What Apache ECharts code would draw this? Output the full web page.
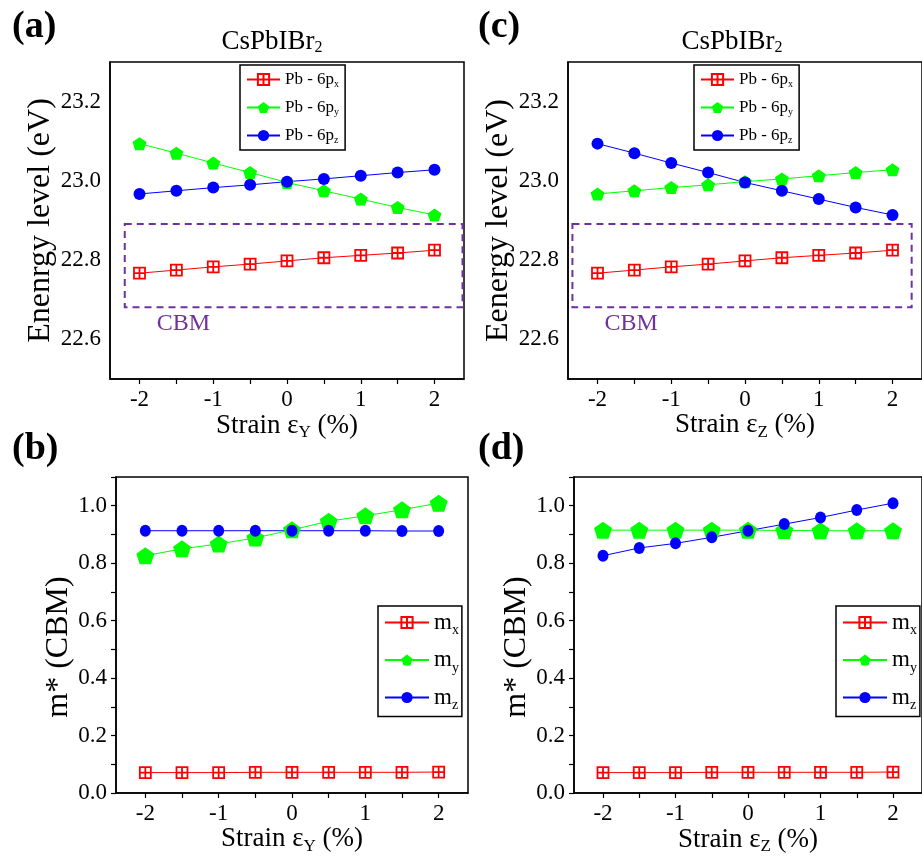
<!DOCTYPE html>
<html>
<head>
<meta charset="utf-8">
<script src="https://cdn.jsdelivr.net/npm/echarts@6/dist/echarts.min.js"></script>
<style>html,body{margin:0;padding:0;background:#fff}#c{width:922px;height:863px}</style>
</head>
<body>
<div id="c"></div>
<script>
// ---- data ----
const strain = [-2, -1.5, -1, -0.5, 0, 0.5, 1, 1.5, 2];
const xTickVals = [-2, -1.5, -1, -0.5, 0, 0.5, 1, 1.5, 2];
const xLabelVals = [-2, -1, 0, 1, 2];
const eLabelVals = [22.6, 22.8, 23.0, 23.2];
const mLabelVals = [0.0, 0.2, 0.4, 0.6, 0.8, 1.0];
const mTickVals = [0.0, 0.1, 0.2, 0.3, 0.4, 0.5, 0.6, 0.7, 0.8, 0.9, 1.0, 1.1];

// (a) strain along Y : energy levels
const a_px = [22.767, 22.775, 22.783, 22.790, 22.798, 22.806, 22.812, 22.818, 22.825];
const a_py = [23.094, 23.070, 23.045, 23.021, 22.996, 22.975, 22.954, 22.933, 22.914];
const a_pz = [22.967, 22.975, 22.983, 22.990, 22.998, 23.005, 23.013, 23.021, 23.028];
// (c) strain along Z : energy levels
const c_px = [22.767, 22.775, 22.783, 22.790, 22.798, 22.806, 22.812, 22.818, 22.825];
const c_py = [22.967, 22.975, 22.983, 22.990, 22.998, 23.005, 23.013, 23.021, 23.028];
const c_pz = [23.094, 23.070, 23.045, 23.021, 22.996, 22.975, 22.954, 22.933, 22.914];
// (b) strain along Y : effective masses
const b_mx = [0.071, 0.071, 0.071, 0.072, 0.072, 0.072, 0.072, 0.072, 0.073];
const b_my = [0.826, 0.850, 0.867, 0.888, 0.916, 0.946, 0.965, 0.986, 1.009];
const b_mz = [0.913, 0.913, 0.913, 0.913, 0.913, 0.913, 0.913, 0.912, 0.912];
// (d) strain along Z : effective masses
const d_mx = [0.071, 0.071, 0.071, 0.072, 0.072, 0.072, 0.072, 0.072, 0.073];
const d_my = [0.915, 0.915, 0.915, 0.915, 0.915, 0.914, 0.913, 0.913, 0.913];
const d_mz = [0.826, 0.853, 0.869, 0.890, 0.913, 0.936, 0.959, 0.985, 1.009];

// CBM dashed boxes (data coordinates: [x1,y1],[x2,y2])
const cbmA = [[-2.2, 22.891], [2.38, 22.681]];
const cbmC = [[-2.34, 22.891], [2.26, 22.681]];

const energySeriesNames = ['Pb - 6px', 'Pb - 6py', 'Pb - 6pz'];
const massSeriesNames = ['mx', 'my', 'mz'];

// ---- styles ----
const FONT = 'Liberation Serif';
const RED = '#ff0000', GREEN = '#00ff00', BLUE = '#0000ff', PURPLE = '#7030A0';
const sqSym = 'path://M0,0L10,0L10,10L0,10Z M5,0L5,10 M0,5L10,5';
const pentSym = 'path://M50,0L100,36L81,95L19,95L0,36Z';

function pairs(arr) { return strain.map((x, i) => [x, arr[i]]); }

const styles = [
  { sym: sqSym, color: RED, item: { color: '#fff', borderColor: RED, borderWidth: 1.8 } },
  { sym: pentSym, color: GREEN, item: { color: GREEN } },
  { sym: 'circle', color: BLUE, item: { color: BLUE } }
];

function mkSeries(name, arr, k, gi, big) {
  const s = styles[k];
  const sizes = big ? [[11, 11], [18, 17], [11, 12]] : [[11, 11], [14, 13], [12, 12]];
  return {
    type: 'line', name: name, xAxisIndex: gi, yAxisIndex: gi,
    data: pairs(arr), symbol: s.sym, symbolSize: sizes[k],
    showAllSymbol: true,
    lineStyle: { color: s.color, width: 1 },
    itemStyle: s.item,
    emphasis: { disabled: true }
  };
}

function xAxisCfg(gi, sub, gap) {
  return {
    type: 'value', gridIndex: gi, min: -2.4, max: 2.4,
    axisLine: { onZero: false, lineStyle: { color: '#000', width: 1.5 } },
    axisTick: { customValues: xTickVals, length: 5, lineStyle: { color: '#000', width: 1.2 } },
    axisLabel: { customValues: xLabelVals, margin: 9, fontSize: 23, fontFamily: FONT, color: '#000',
      formatter: v => String(v) },
    splitLine: { show: false },
    name: '{a|Strain ε}{s|' + sub + '}{a| (%)}',
    nameLocation: 'middle', nameGap: gap,
    nameTextStyle: { rich: {
      a: { fontSize: 27, fontFamily: FONT, color: '#000' },
      s: { fontSize: 17, fontFamily: FONT, color: '#000', padding: [14, 0, 0, 0] } } }
  };
}

function yAxisCfg(gi, kind, name, gap, pad) {
  const energy = kind === 'e';
  return {
    type: 'value', gridIndex: gi,
    min: energy ? 22.5 : 0, max: energy ? 23.3 : 1.1,
    axisLine: { onZero: false, lineStyle: { color: '#000', width: 1.5 } },
    axisTick: energy ? { show: false } :
      { customValues: mTickVals, length: 5, lineStyle: { color: '#000', width: 1.2 } },
    axisLabel: { customValues: energy ? eLabelVals : mLabelVals, margin: 9, fontSize: 23,
      fontFamily: FONT, color: '#000', formatter: v => v.toFixed(1) },
    splitLine: { show: false },
    name: name, nameLocation: 'middle', nameGap: gap,
    nameTextStyle: { fontSize: 32, fontFamily: FONT, color: '#000', padding: pad }
  };
}

const gridStyle = { show: true, borderColor: '#000', borderWidth: 1.5, containLabel: false };

const legendRichE = {
  a: { fontSize: 17, fontFamily: FONT, color: '#000' },
  s: { fontSize: 10, fontFamily: FONT, color: '#000', padding: [9, 0, 0, 0] }
};
const legendRichM = {
  a: { fontSize: 23, fontFamily: FONT, color: '#000' },
  s: { fontSize: 14, fontFamily: FONT, color: '#000', padding: [16, 0, 0, 0] }
};
function legFmt(name) {
  if (name.indexOf('Pb') === 0) return '{a|Pb - 6p}{s|' + name.slice(-1) + '}';
  return '{a|m}{s|' + name.slice(-1) + '}';
}

function panelLabel(txt, x, y) {
  return { type: 'text', x: x, y: y, style: { text: txt, font: 'bold 38px "Liberation Serif"', fill: '#000' } };
}
function titleText(x, y) {
  return { type: 'text', x: x, y: y, style: {
    text: '{a|CsPbIBr}{s|2}', align: 'center', verticalAlign: 'middle',
    rich: { a: { fontSize: 27, fontFamily: FONT, fill: '#000' },
            s: { fontSize: 16, fontFamily: FONT, fill: '#000', padding: [12, 0, 0, 0] } } } };
}

function cbmMark(box) {
  return {
    silent: true,
    itemStyle: { color: 'rgba(0,0,0,0)', borderColor: PURPLE, borderWidth: 2, borderType: [7, 5] },
    label: { show: true, formatter: 'CBM', position: [33, 89], fontSize: 24, fontFamily: FONT, color: PURPLE },
    data: [[{ coord: box[0] }, { coord: box[1] }]]
  };
}

const series = [
  Object.assign(mkSeries(energySeriesNames[0], a_px, 0, 0, false), { markArea: cbmMark(cbmA) }),
  mkSeries(energySeriesNames[1], a_py, 1, 0, false),
  mkSeries(energySeriesNames[2], a_pz, 2, 0, false),
  Object.assign(mkSeries(energySeriesNames[0], c_px, 0, 1, false), { markArea: cbmMark(cbmC) }),
  mkSeries(energySeriesNames[1], c_py, 1, 1, false),
  mkSeries(energySeriesNames[2], c_pz, 2, 1, false),
  mkSeries(massSeriesNames[0], b_mx, 0, 2, true),
  mkSeries(massSeriesNames[1], b_my, 1, 2, true),
  mkSeries(massSeriesNames[2], b_mz, 2, 2, true),
  mkSeries(massSeriesNames[0], d_mx, 0, 3, true),
  mkSeries(massSeriesNames[1], d_my, 1, 3, true),
  mkSeries(massSeriesNames[2], d_mz, 2, 3, true)
];

function legendCfg(names, left, top, rich, iw, ih, gap, pad) {
  return {
    data: names, orient: 'vertical', left: left, top: top,
    itemWidth: iw, itemHeight: ih, itemGap: gap,
    padding: pad,
    borderColor: '#000', borderWidth: 1.5, backgroundColor: '#fff',
    formatter: legFmt, selectedMode: false,
    textStyle: { rich: rich }
  };
}

const option = {
  animation: false,
  backgroundColor: '#fff',
  grid: [
    Object.assign({ left: 110, top: 62, width: 354, height: 317 }, gridStyle),
    Object.assign({ left: 568, top: 62, width: 354, height: 317 }, gridStyle),
    Object.assign({ left: 116, top: 477, width: 352, height: 316 }, gridStyle),
    Object.assign({ left: 574, top: 477, width: 352, height: 316 }, gridStyle)
  ],
  xAxis: [xAxisCfg(0, 'Y', 31), xAxisCfg(1, 'Z', 30), xAxisCfg(2, 'Y', 27), xAxisCfg(3, 'Z', 31)],
  yAxis: [
    yAxisCfg(0, 'e', 'Enenrgy level (eV)', 39, [0, 0, 0, 0]),
    yAxisCfg(1, 'e', 'Eenergy level (eV)', 42, [0, 0, 0, 0]),
    yAxisCfg(2, 'm', 'm* (CBM)', 31, [0, 24, 0, 0]),
    yAxisCfg(3, 'm', 'm* (CBM)', 32, [0, 24, 0, 0])
  ],
  legend: [
    legendCfg(energySeriesNames, 240, 65, legendRichE, 33, 14, 10, [6, 6, 5, 6]),
    legendCfg(energySeriesNames, 694, 65, legendRichE, 33, 14, 10, [6, 6, 5, 6]),
    legendCfg(massSeriesNames, 378, 606, legendRichM, 44, 14, 11, [5, 3, 4, 6]),
    legendCfg(massSeriesNames, 836, 606, legendRichM, 44, 14, 11, [5, 3, 4, 6])
  ],
  graphic: [
    panelLabel('(a)', 12, 8), panelLabel('(c)', 478, 8),
    panelLabel('(b)', 12, 430), panelLabel('(d)', 478, 430),
    titleText(272, 42), titleText(732, 42)
  ],
  series: series
};

const chart = echarts.init(document.getElementById('c'), null, { renderer: 'canvas' });
chart.setOption(option);
</script>
</body>
</html>
